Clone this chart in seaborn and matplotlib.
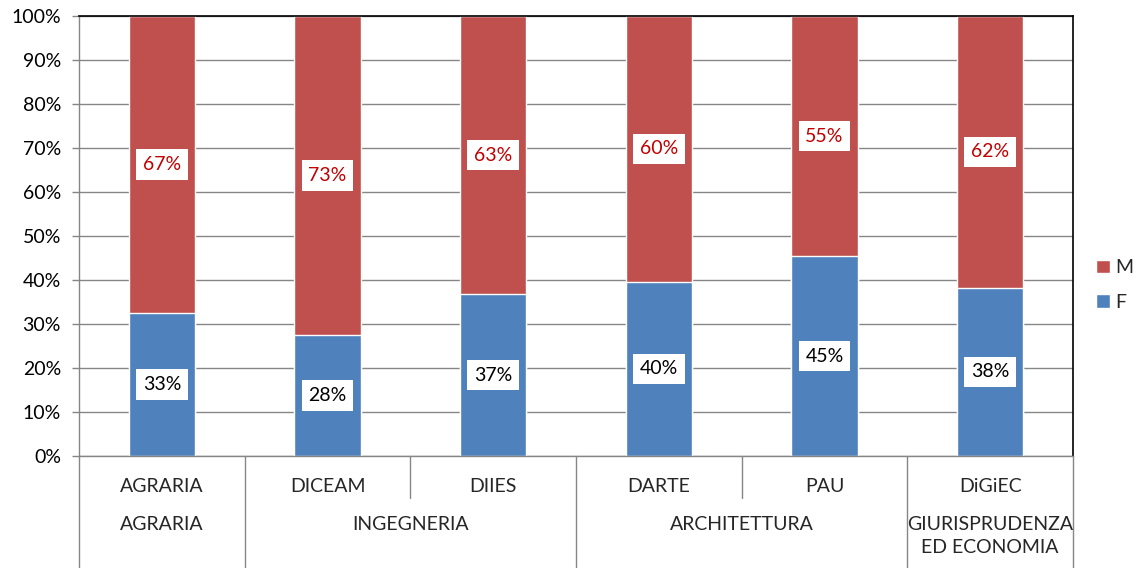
import numpy as np
import pandas as pd
import seaborn as sns
import matplotlib.pyplot as plt
from matplotlib.patches import Patch

# dati (quote percentuali per dipartimento)
dipartimenti = ['AGRARIA', 'DICEAM', 'DIIES', 'DARTE', 'PAU', 'DiGiEC']
aree = ['AGRARIA', 'INGEGNERIA', 'ARCHITETTURA', 'GIURISPRUDENZA\nED ECONOMIA']
dip_per_area = [1, 2, 2, 1]
quota_f = [32.6, 27.5, 36.8, 39.6, 45.4, 38.2]
quota_m = [67.4, 72.5, 63.2, 60.4, 54.6, 61.8]
ticks_y = [0, 10, 20, 30, 40, 50, 60, 70, 80, 90, 100]

blu = '#4F81BD'
rosso = '#C0504D'
rosso_testo = '#C00000'
grigio = '#868686'

df = pd.DataFrame({'Dipartimento': dipartimenti, 'F': quota_f, 'M': quota_m})
df['Totale'] = df['F'] + df['M']

sns.set_theme(style='white')
plt.rcParams['font.family'] = ['Lato', 'DejaVu Sans']

fig = plt.figure(figsize=(11.39, 5.68), dpi=100)
ax = fig.add_axes([79 / 1139, 1 - 456 / 568, (1073 - 79) / 1139, 440 / 568])

# barre impilate: totale (M sopra) e poi F davanti
sns.barplot(data=df, x='Dipartimento', y='Totale', color=rosso, width=0.4,
            saturation=1, ax=ax)
sns.barplot(data=df, x='Dipartimento', y='F', color=blu, width=0.4,
            saturation=1, ax=ax)

ax.set_xlim(-0.5, len(dipartimenti) - 0.5)
ax.set_ylim(0, 100)
ax.set_yticks(ticks_y)
ax.set_yticklabels([f'{t}%' for t in ticks_y])
ax.yaxis.grid(True, color=grigio, linewidth=1)
ax.set_axisbelow(True)
ax.set_xlabel('')
ax.set_ylabel('')
ax.set_xticks([])
ax.tick_params(axis='y', left=True, length=5, width=1, color=grigio,
               labelsize=14, pad=8, labelcolor='black')

for lato in ['left', 'bottom']:
    ax.spines[lato].set_color(grigio)
    ax.spines[lato].set_linewidth(1)
for lato in ['top', 'right']:
    ax.spines[lato].set_color('black')
    ax.spines[lato].set_linewidth(1.2)

# etichette dei valori
def arrotonda(v):
    return int(np.floor(v + 0.5))

box = dict(boxstyle='square,pad=0.35', facecolor='white', edgecolor='none')
for i, (f, m) in enumerate(zip(quota_f, quota_m)):
    ax.text(i, f / 2, f'{arrotonda(f)}%', ha='center', va='center',
            fontsize=14, color='black', bbox=box)
    ax.text(i, f + m / 2, f'{arrotonda(m)}%', ha='center', va='center',
            fontsize=14, color=rosso_testo, bbox=box)

# asse delle categorie su due livelli
tr = ax.get_xaxis_transform()
y_liv1 = -(486 - 456) / 440
y_liv2 = -(516 - 456) / 440
y_corta = -(498 - 456) / 440
y_fondo = -(568 - 456) / 440

for i, nome in enumerate(dipartimenti):
    ax.text(i, y_liv1, nome, transform=tr, ha='center', va='center',
            fontsize=14, clip_on=False)

confini = np.cumsum([0] + dip_per_area) - 0.5
for x in np.arange(-0.5, len(dipartimenti), 1.0):
    y_fine = y_fondo if np.isclose(confini, x).any() else y_corta
    ax.plot([x, x], [0, y_fine], transform=tr, color=grigio, linewidth=1,
            clip_on=False)

for a, nome in enumerate(aree):
    centro = (confini[a] + confini[a + 1]) / 2
    ax.text(centro, y_liv2, nome, transform=tr, ha='center', va='top',
            fontsize=14, linespacing=1.45, clip_on=False)

# legenda
maniglie = [Patch(facecolor=rosso, label='M'), Patch(facecolor=blu, label='F')]
fig.legend(handles=maniglie, loc='center left',
           bbox_to_anchor=(1096 / 1139, 1 - 285 / 568), frameon=False,
           fontsize=14, handlelength=0.7, handleheight=0.7,
           handletextpad=0.3, labelspacing=0.9, borderaxespad=0,
           borderpad=0)

fig.savefig('out.png', dpi=100)
